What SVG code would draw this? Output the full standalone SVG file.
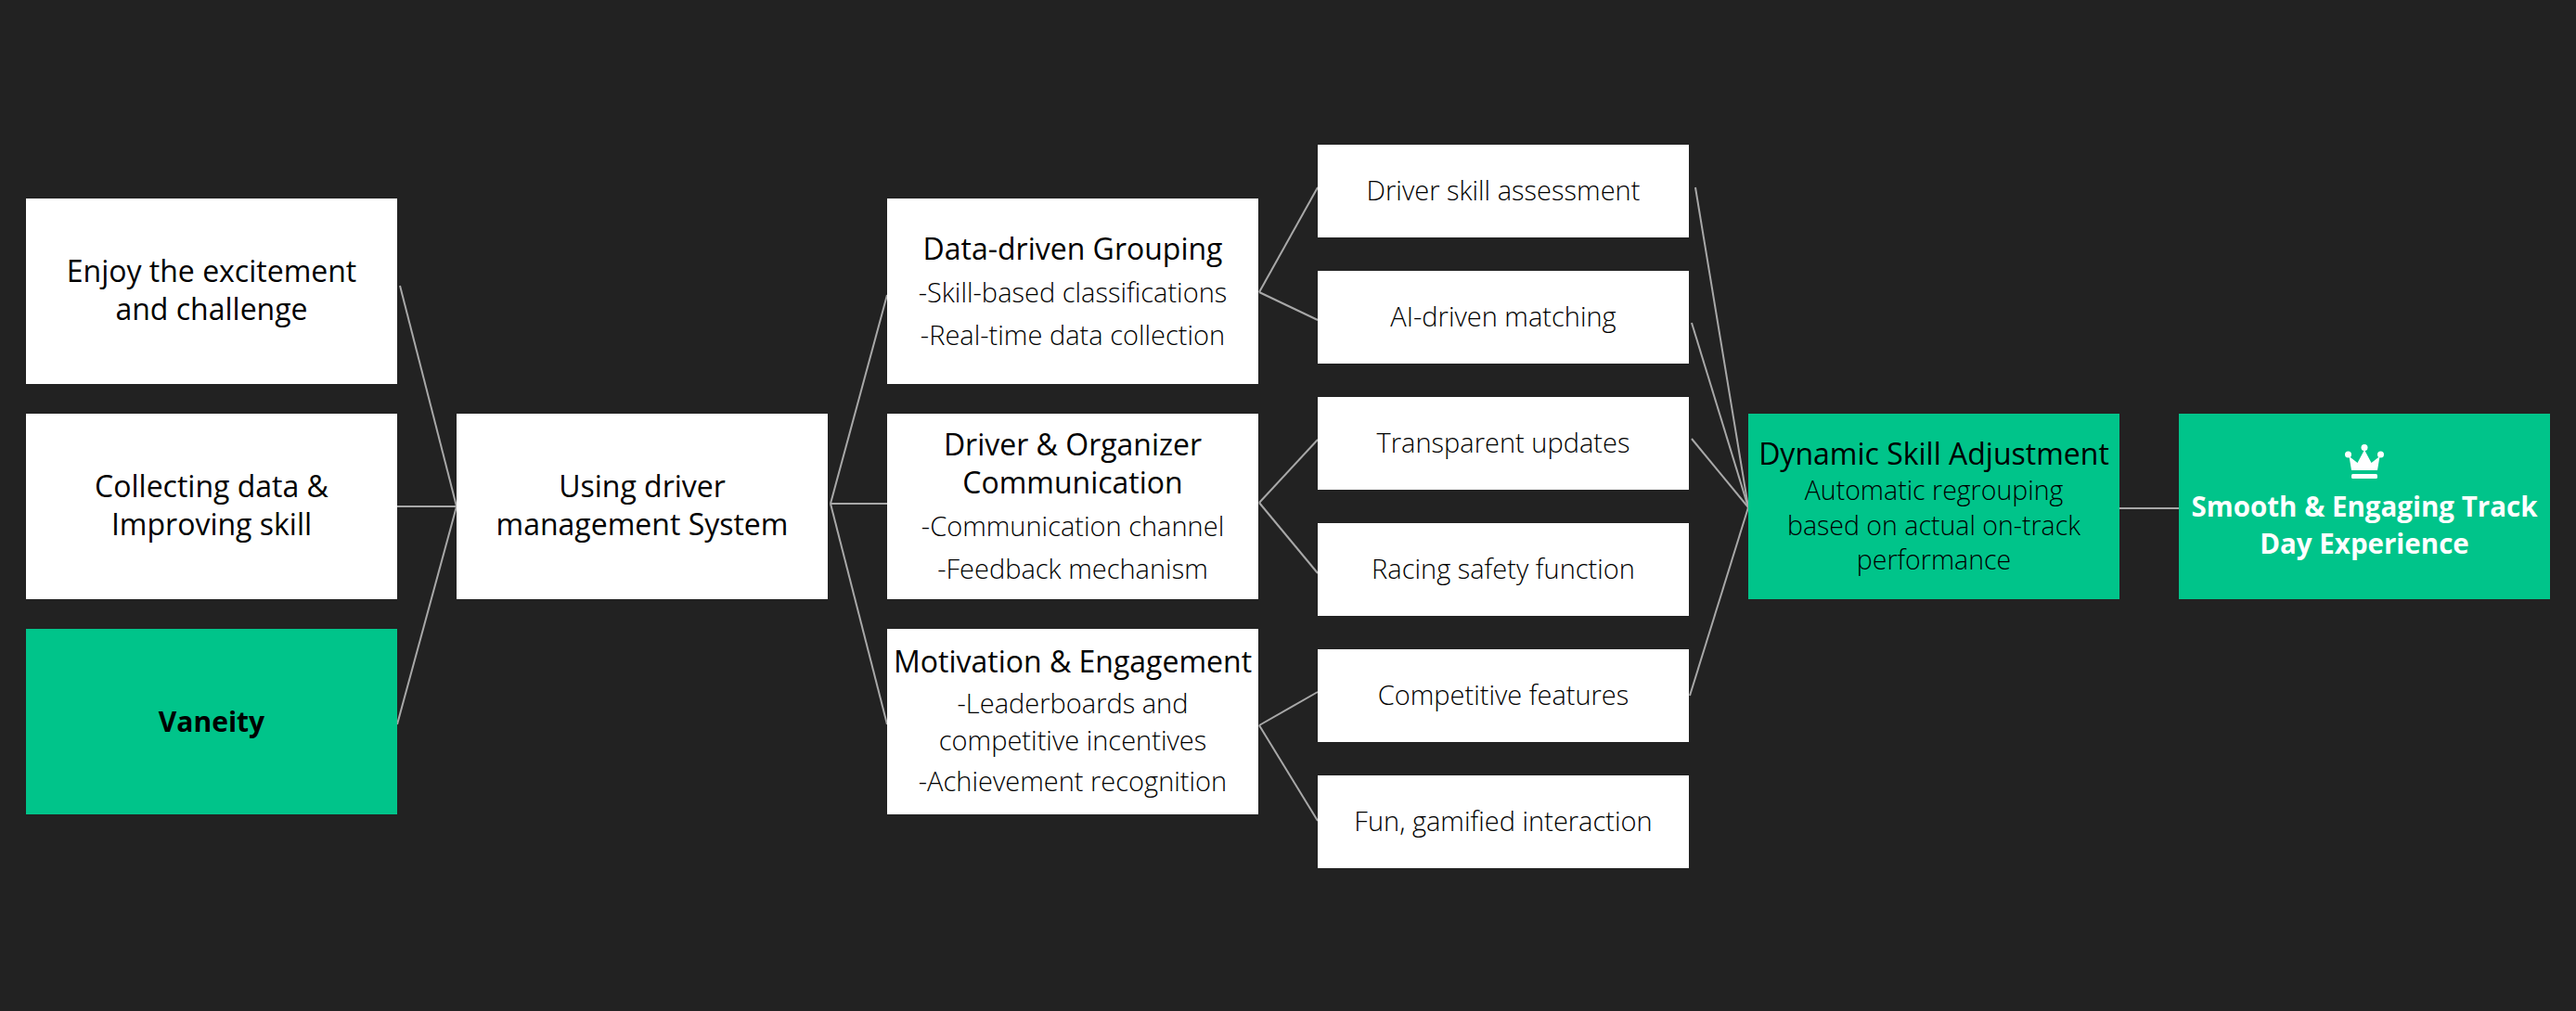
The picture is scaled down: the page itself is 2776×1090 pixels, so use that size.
<svg xmlns="http://www.w3.org/2000/svg" width="2776" height="1090" viewBox="0 0 2776 1090">
<style>
.bg{fill:#222222}
.w{fill:#ffffff}
.g{fill:#00c48a}
.t{font-family:"Open Sans","Liberation Sans",sans-serif;font-size:32px;fill:#000;text-anchor:middle;font-weight:400}
.tb{font-family:"Open Sans","Liberation Sans",sans-serif;font-size:30px;fill:#000;text-anchor:middle;font-weight:700}
.tw{font-family:"Open Sans","Liberation Sans",sans-serif;font-size:29.5px;fill:#fff;text-anchor:middle;font-weight:700}
.b{font-family:"Open Sans","Liberation Sans",sans-serif;font-size:29px;fill:#000;text-anchor:middle;font-weight:300}
.bd{font-family:"Open Sans","Liberation Sans",sans-serif;font-size:28.5px;fill:#000;text-anchor:middle;font-weight:300}
.b4{font-family:"Open Sans","Liberation Sans",sans-serif;font-size:29px;fill:#000;text-anchor:middle;font-weight:300}
.c line{stroke:#a8a8a8;stroke-width:2;fill:none}
</style>
<rect class="bg" x="0" y="0" width="2776" height="1090"/>
<g class="c" id="connectors">
<line x1="431" y1="308" x2="492" y2="546"/>
<line x1="428" y1="546" x2="492" y2="546"/>
<line x1="428" y1="781" x2="492" y2="546"/>
<line x1="895" y1="543" x2="956" y2="318"/>
<line x1="895" y1="543" x2="956" y2="543"/>
<line x1="895" y1="543" x2="956" y2="781"/>
<line x1="1357" y1="315" x2="1420" y2="202"/>
<line x1="1357" y1="315" x2="1420" y2="345"/>
<line x1="1357" y1="542" x2="1420" y2="474"/>
<line x1="1357" y1="542" x2="1420" y2="618"/>
<line x1="1357" y1="782" x2="1420" y2="746"/>
<line x1="1357" y1="782" x2="1420" y2="885"/>
<line x1="1827" y1="202" x2="1884" y2="547"/>
<line x1="1823" y1="348" x2="1884" y2="547"/>
<line x1="1823" y1="473" x2="1884" y2="547"/>
<line x1="1821" y1="750" x2="1884" y2="547"/>
<line x1="2284" y1="548" x2="2348" y2="548"/>
</g>
<g id="enjoy">
<rect class="w" x="28" y="214" width="400" height="200"/>
<text class="t" x="228" y="304">Enjoy the excitement</text>
<text class="t" x="228" y="345">and challenge</text>
</g>
<g id="collecting">
<rect class="w" x="28" y="446" width="400" height="200"/>
<text class="t" x="228" y="536">Collecting data &amp;</text>
<text class="t" x="228" y="577">Improving skill</text>
</g>
<g id="vaneity">
<rect class="g" x="28" y="678" width="400" height="200"/>
<text class="tb" x="228" y="789">Vaneity</text>
</g>
<g id="using">
<rect class="w" x="492" y="446" width="400" height="200"/>
<text class="t" x="692" y="536">Using driver</text>
<text class="t" x="692" y="577">management System</text>
</g>
<g id="grouping">
<rect class="w" x="956" y="214" width="400" height="200"/>
<text class="t" x="1156" y="280">Data-driven Grouping</text>
<text class="b" x="1156" y="326">-Skill-based classifications</text>
<text class="b" x="1156" y="372">-Real-time data collection</text>
</g>
<g id="communication">
<rect class="w" x="956" y="446" width="400" height="200"/>
<text class="t" x="1156" y="491">Driver &amp; Organizer</text>
<text class="t" x="1156" y="532">Communication</text>
<text class="b" x="1156" y="578">-Communication channel</text>
<text class="b" x="1156" y="624">-Feedback mechanism</text>
</g>
<g id="motivation">
<rect class="w" x="956" y="678" width="400" height="200"/>
<text class="t" x="1156" y="725">Motivation &amp; Engagement</text>
<text class="b" x="1156" y="769">-Leaderboards and</text>
<text class="b" x="1156" y="809">competitive incentives</text>
<text class="b" x="1156" y="853">-Achievement recognition</text>
</g>
<g id="assessment">
<rect class="w" x="1420" y="156" width="400" height="100"/>
<text class="b4" x="1620" y="216">Driver skill assessment</text>
</g>
<g id="matching">
<rect class="w" x="1420" y="292" width="400" height="100"/>
<text class="b4" x="1620" y="352">AI-driven matching</text>
</g>
<g id="transparent">
<rect class="w" x="1420" y="428" width="400" height="100"/>
<text class="b4" x="1620" y="488">Transparent updates</text>
</g>
<g id="safety">
<rect class="w" x="1420" y="564" width="400" height="100"/>
<text class="b4" x="1620" y="624">Racing safety function</text>
</g>
<g id="competitive">
<rect class="w" x="1420" y="700" width="400" height="100"/>
<text class="b4" x="1620" y="760">Competitive features</text>
</g>
<g id="fun">
<rect class="w" x="1420" y="836" width="400" height="100"/>
<text class="b4" x="1620" y="896">Fun, gamified interaction</text>
</g>
<g id="dynamic">
<rect class="g" x="1884" y="446" width="400" height="200"/>
<text class="t" x="2084" y="501">Dynamic Skill Adjustment</text>
<text class="bd" x="2084" y="539">Automatic regrouping</text>
<text class="bd" x="2084" y="577">based on actual on-track</text>
<text class="bd" x="2084" y="614">performance</text>
</g>
<g id="smooth">
<rect class="g" x="2348" y="446" width="400" height="200"/>
<g fill="#fff">
<circle cx="2548" cy="482.5" r="3.5"/>
<circle cx="2530.5" cy="490" r="3.5"/>
<circle cx="2565.5" cy="490" r="3.5"/>
<path d="M2531.5 492 L2540.5 499 L2548 485 L2555.5 499 L2564.5 492 L2562 507 L2534 507 Z"/>
<rect x="2534" y="511" width="28" height="5" rx="1.5"/>
</g>
<text class="tw" x="2548" y="557">Smooth &amp; Engaging Track</text>
<text class="tw" x="2548" y="597">Day Experience</text>
</g>
</svg>
